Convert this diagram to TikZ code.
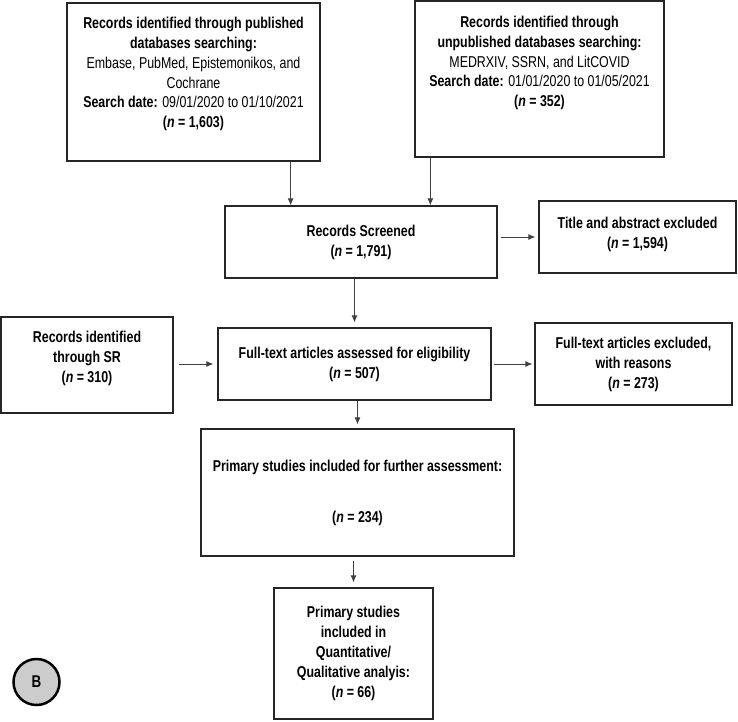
\documentclass[tikz,border=0pt]{standalone}
\usepackage{fontspec}
\setmainfont[FakeStretch=0.79]{Liberation Sans}
\usetikzlibrary{arrows.meta}

\begin{document}
\begin{tikzpicture}[x=1pt,y=-1pt,
  box/.style={draw=black!85,line width=1.3pt,rectangle,inner sep=0pt,align=center,
    font=\bfseries\fontsize{15.7}{20}\selectfont},
  topbox/.style={box,font=\mdseries\fontsize{15.7}{19.8}\selectfont},
  arr/.style={-{Latex[length=7pt,width=6pt]},draw=black!75,line width=0.8pt}]
\useasboundingbox (0,0) rectangle (738,721);

\node[topbox,minimum width=253pt,minimum height=158pt] (pub) at (193.5,82)
  {\textbf{Records identified through published}\\ \textbf{databases searching:}\\
   Embase, PubMed, Epistemonikos, and\\ Cochrane\\
   \textbf{Search date:} 09/01/2020 to 01/10/2021\\
   \textbf{(\textit{n} = 1,603)}\rule[-19pt]{0pt}{19pt}};
\node[topbox,minimum width=249pt,minimum height=156pt] (unp) at (539.5,79)
  {\textbf{Records identified through}\\ \textbf{unpublished databases searching:}\\
   MEDRXIV, SSRN, and LitCOVID\\
   \textbf{Search date:} 01/01/2020 to 01/05/2021\\
   \textbf{(\textit{n} = 352)}\rule[-35pt]{0pt}{35pt}};

\node[box,minimum width=272pt,minimum height=72pt] (scr) at (361,242) {Records Screened\\ (\textit{n} = 1,791)};
\node[box,minimum width=197pt,minimum height=72pt] (tae) at (637.5,237) {Title and abstract excluded\\ (\textit{n} = 1,594)\rule[-9pt]{0pt}{9pt}};
\node[box,minimum width=172pt,minimum height=96pt] (srr) at (87,365) {Records identified\\ through SR\\ (\textit{n} = 310)\rule[-16pt]{0pt}{16pt}};
\node[box,minimum width=273pt,minimum height=72pt] (fta) at (354.5,364) {Full-text articles assessed for eligibility\\ (\textit{n} = 507)};
\node[box,minimum width=197pt,minimum height=82pt] (fte) at (633.5,364) {Full-text articles excluded,\\ with reasons\\ (\textit{n} = 273)};
\node[box,minimum width=313pt,minimum height=127pt] (prim) at (357.5,492.5) {Primary studies included for further assessment:\\[31pt] (\textit{n} = 234)};
\node[box,minimum width=159pt,minimum height=131pt] (qual) at (353.5,653.5) {Primary studies\\ included in\\ Quantitative/\\ Qualitative analyis:\\ (\textit{n} = 66)};

\node[circle,draw=black,line width=2.5pt,fill=black!20,minimum size=46pt,inner sep=0pt,font=\bfseries\fontsize{17}{18}\selectfont] (lbl) at (36.5,682) {B};

\draw[arr] ([xshift=-30pt]pub.south east) -- ([xshift=-30pt]pub.south east |- scr.north);
\draw[arr] ([xshift=16pt]unp.south west) -- ([xshift=16pt]unp.south west |- scr.north);
\draw[arr,shorten <=3pt,shorten >=3pt] (scr.east |- tae.west) -- (tae.west);
\draw[arr,shorten >=5pt] (scr.south -| fta.north) -- (fta.north);
\draw[arr,shorten <=5pt,shorten >=4pt] (srr.east |- fta.west) -- (fta.west);
\draw[arr,shorten <=2pt,shorten >=2pt] (fta.east) -- (fte.west |- fta.east);
\draw[arr,shorten >=4pt] (fta.south -| prim.north) -- (prim.north);
\draw[arr,shorten <=4pt,shorten >=5pt] (prim.south -| qual.north) -- (qual.north);
\end{tikzpicture}
\end{document}
